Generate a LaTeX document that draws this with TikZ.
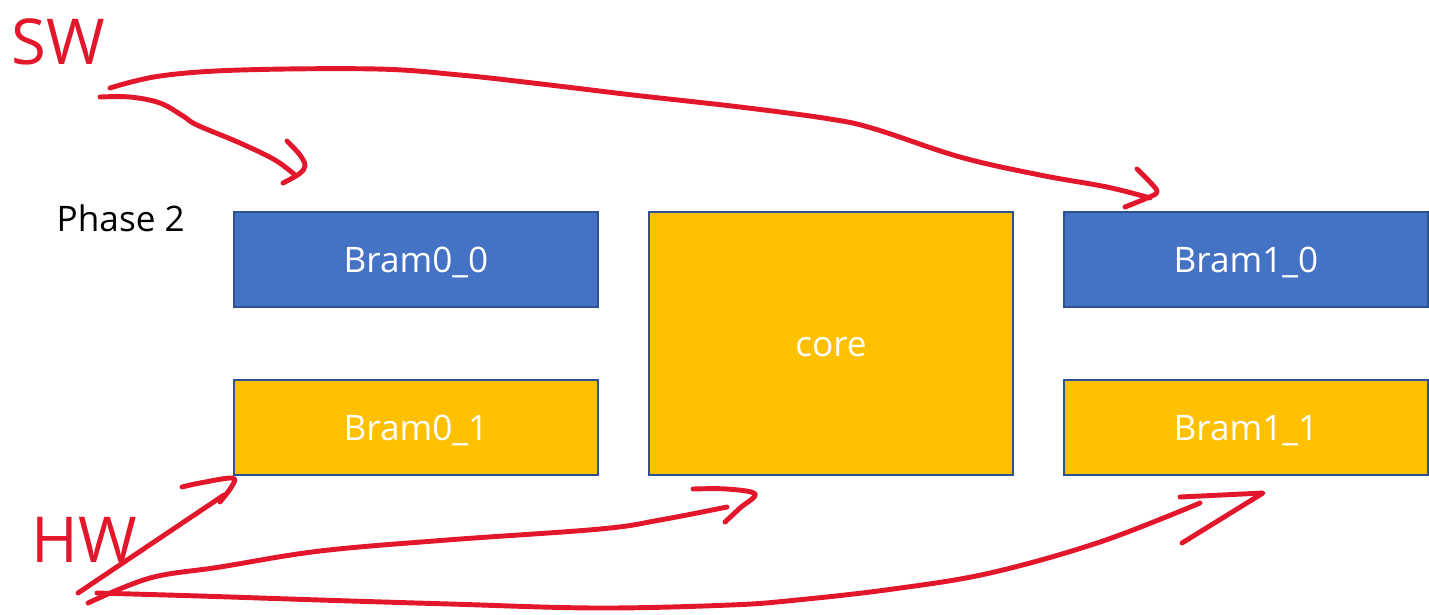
\documentclass[tikz,border=0pt]{standalone}
\usepackage{fontspec}
\setmainfont{Open Sans}

\definecolor{bramblue}{HTML}{4472C4}
\definecolor{bramgold}{HTML}{FFC000}
\definecolor{edgeblue}{HTML}{2F528F}
\definecolor{inkred}{HTML}{E3172B}

\tikzset{
  bram/.style={draw=edgeblue, line width=0.6pt, inner sep=0pt, text=white,
    text height=7.6pt, text depth=0pt,
    minimum width=3.64cm, minimum height=0.95cm, font=\fontsize{10}{12}\selectfont},
  ink/.style={draw=inkred, line width=1.4pt, line cap=round, line join=round},
  hand/.style={text=inkred, inner sep=0pt, font=\fontsize{18}{18}\selectfont},
}

\begin{document}
\begin{tikzpicture}[x=0.01cm, y=-0.01cm]
                \useasboundingbox (0,0) rectangle (1429,614);
                % Blocks:
                \node[bram, fill=bramblue](b00) at (416,259.5){Bram0\_0};
                \node[bram, fill=bramgold](b01) at (416,427.5){Bram0\_1};
                \node[bram, fill=bramgold, minimum height=2.63cm](core) at (831,343.5){core};
                \node[bram, fill=bramblue](b10) at (1246,259.5){Bram1\_0};
                \node[bram, fill=bramgold](b11) at (1246,427.5){Bram1\_1};
                \node[anchor=west, inner sep=0pt, font=\fontsize{10}{12}\selectfont](phase) at (56,218){Phase 2};
                % Ink labels:
                \node[hand](sw) at (58,42){SW};
                \node[hand](hw) at (84,540){HW};
                % Free ends of the ink strokes:
                \coordinate (sw-a) at (100,97);
                \coordinate (sw-b) at (110,88);
                \coordinate (hw-a) at (78,593);
                \coordinate (hw-b) at (88,603);
                \coordinate (hw-c) at (97,593);
                \coordinate (tip-b00) at (295,175);
                \coordinate (tip-b10) at (1150,198);
                \coordinate (tip-b01) at (224,495);
                \coordinate (tip-core) at (727,507);
                \coordinate (tip-b11) at (1200,503);
                % SW strokes:
                \draw[ink] plot[smooth, tension=0.6] coordinates {(sw-a) (130,97) (160,103) (183,116) (197,125) (240,143) (275,160) (tip-b00)};
                \draw[ink] plot[smooth, tension=0.6] coordinates {(287,141) (300,155) (305,166) (299,174) (283,183)};
                \draw[ink] plot[smooth, tension=0.6] coordinates {(sw-b) (160,76) (240,70) (377,69) (460,75) (533,83) (633,95) (740,107) (830,119) (875,129) (960,157) (1040,175) (1107,187) (tip-b10)};
                \draw[ink] plot[smooth, tension=0.6] coordinates {(1137,169) (1150,182) (1157,192) (1147,198) (1125,207)};
                % HW strokes:
                \draw[ink] (hw-a) -- (tip-b01);
                \draw[ink] plot[smooth, tension=0.6] coordinates {(182,487) (200,483) (232,478) (232,486) (220,502)};
                \draw[ink] plot[smooth, tension=0.6] coordinates {(hw-b) (150,578) (220,567) (320,551) (447,540) (600,529) (660,520) (tip-core)};
                \draw[ink] plot[smooth, tension=0.6] coordinates {(693,489) (727,489) (755,494) (740,508) (725,522)};
                \draw[ink] plot[smooth, tension=0.6] coordinates {(hw-c) (200,596) (320,600) (450,604) (597,608) (730,605) (797,600) (893,589) (990,573) (1100,542) (tip-b11)};
                \draw[ink] (1180,497) -- (1263,493) -- (1182,543);
            \end{tikzpicture}
\end{document}
